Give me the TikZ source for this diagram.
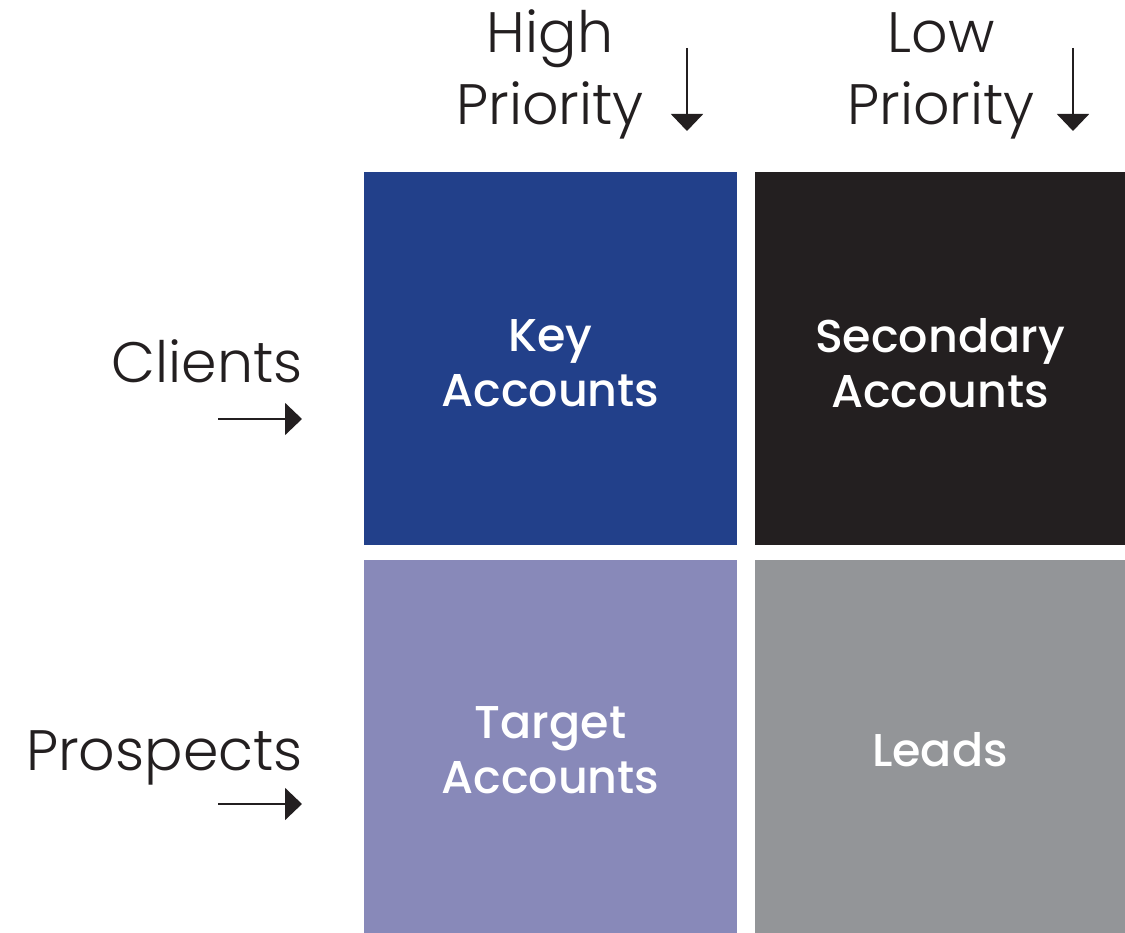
\documentclass[tikz,border=0pt]{standalone}
\usepackage{fontspec}
\usetikzlibrary{arrows.meta}
\newfontfamily\labelfont{Poppins Light}
\newfontfamily\boxfont{Poppins Medium}
\definecolor{keyblue}{HTML}{22408A}
\definecolor{secdark}{HTML}{231F20}
\definecolor{targetlav}{HTML}{8889B9}
\definecolor{leadgray}{HTML}{939598}
\definecolor{inkdark}{HTML}{231F20}
\begin{document}
\begin{tikzpicture}[x=1pt,y=-1pt,
  cell/.style={minimum width=373pt,minimum height=373pt,inner sep=0pt,outer sep=0pt,draw=none},
  celltext/.style={text=white,align=center,font=\boxfont\fontsize{46}{55}\selectfont},
  axislabel/.style={text=inkdark,inner sep=0pt,font=\labelfont\fontsize{57}{72}\selectfont},
  pointer/.style={draw=inkdark,line width=2pt,-{Triangle[width=32pt,length=17pt]}}]
\useasboundingbox (0,0) rectangle (1125,933);
% the four quadrants
\node[cell,fill=keyblue,anchor=north west] (key) at (364,172) {};
\node[cell,fill=secdark,anchor=north west,minimum width=370pt] (sec) at (755,172) {};
\node[cell,fill=targetlav,anchor=north west] (tgt) at (364,560) {};
\node[cell,fill=leadgray,anchor=north west,minimum width=370pt] (lead) at (755,560) {};
\node[celltext] (keyt) at (550.5,363) {Key\\Accounts};
\node[celltext] (sect) at (940,363) {Secondary\\Accounts};
\node[celltext] (tgtt) at (550.5,750) {Target\\Accounts};
\node[celltext] (leadt) at (940,750) {Leads};
% column headings (base anchor sits on the last line)
\node[axislabel,align=center,anchor=base] (high) at (550,125) {High\\Priority};
\node[axislabel,align=center,anchor=base] (low) at (941,125) {Low\\Priority};
% row headings
\node[axislabel,anchor=base east] (clients) at (303,382) {Clients};
\node[axislabel,anchor=base east] (prosp) at (303,770) {Prospects};
% pointers
\coordinate (hA) at (687,48); \coordinate (hB) at (687,131);
\coordinate (lA) at (1073,48); \coordinate (lB) at (1073,131);
\coordinate (cA) at (218,419); \coordinate (cB) at (302,419);
\coordinate (pA) at (218,804); \coordinate (pB) at (302,804);
\draw[pointer] (hA) -- (hB);
\draw[pointer] (lA) -- (lB);
\draw[pointer] (cA) -- (cB);
\draw[pointer] (pA) -- (pB);
\end{tikzpicture}
\end{document}
